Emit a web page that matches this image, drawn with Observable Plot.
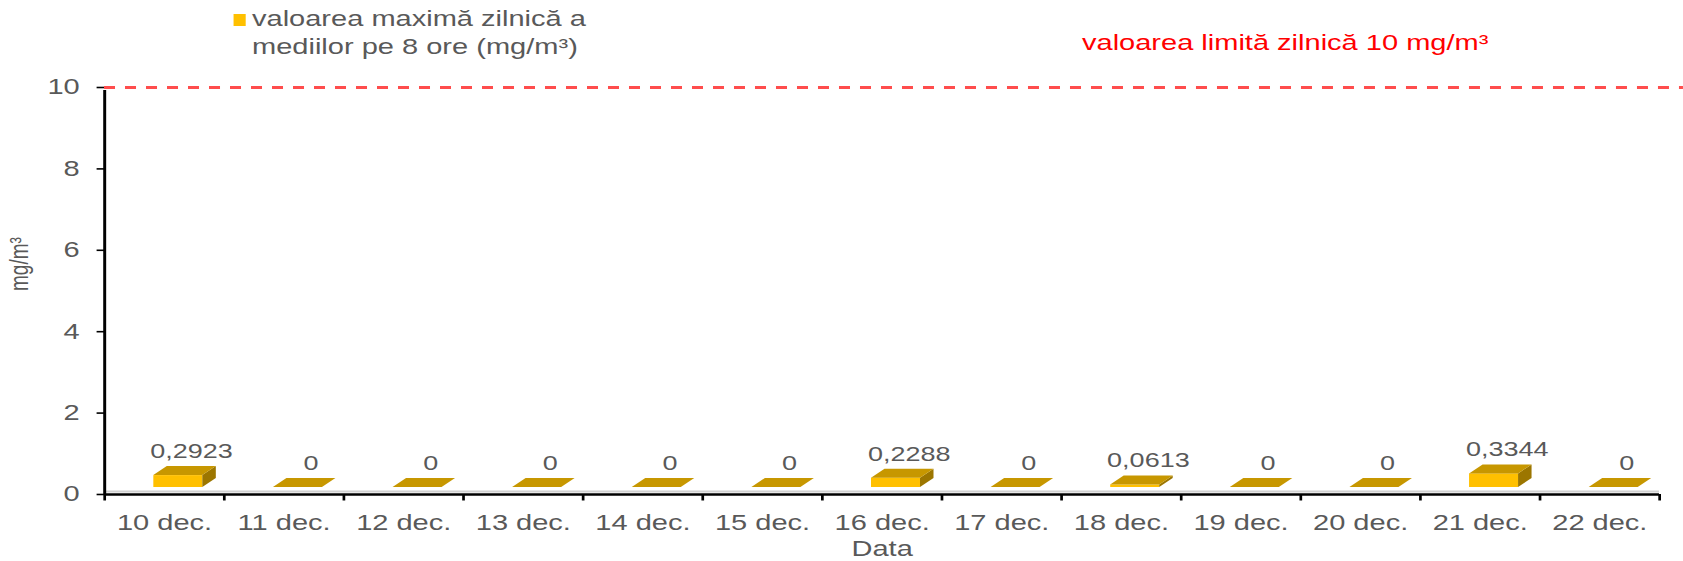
<!DOCTYPE html>
<html><head><meta charset="utf-8">
<script src="https://cdn.jsdelivr.net/npm/d3@7"></script>
<script src="https://cdn.jsdelivr.net/npm/@observablehq/plot@0.6"></script>
<style>
html,body{margin:0;padding:0;background:#fff;overflow:hidden;}
#wrap{position:relative;height:561px;transform-origin:0 0;}
#chart{position:absolute;left:0;top:0;}
#legend{position:absolute;font-family:"Liberation Sans",Arial,sans-serif;color:#595959;}
#legend .sw{position:absolute;background:#FFC000;}
#legend .tx{position:absolute;white-space:nowrap;}
</style></head><body>
<div id="wrap"><div id="chart"></div><div id="legend"></div></div>
<script>
// ---- data ----
const dates = ["10 dec.", "11 dec.", "12 dec.", "13 dec.", "14 dec.", "15 dec.", "16 dec.", "17 dec.", "18 dec.", "19 dec.", "20 dec.", "21 dec.", "22 dec."];
const values = [0.2923, 0, 0, 0, 0, 0, 0.2288, 0, 0.0613, 0, 0, 0.3344, 0];
const yTicks = [0, 2, 4, 6, 8, 10];
const limitValue = 10;
const seriesLabel = ["valoarea maximă zilnică a", "mediilor pe 8 ore (mg/m³)"];
const limitLabel = "valoarea limită zilnică 10 mg/m³";
const yLabel = "mg/m³";
const xLabel = "Data";

// ---- layout / style ----
const S = 1.35;                 // horizontal stretch of the original picture
const W = 1683 / S;
const H = 561;
const FONT = '"Liberation Sans", Arial, sans-serif';
const GRAY = "#595959";
const FRONT = "#FFC000", TOP = "#C79700", SIDE = "#9C7600";
const FRONT_L = -10.5 / S, FRONT_R = 38.5 / S, DX = 13.5 / S, DY = -9, BASE_DY = -7;
const mL = 104 / S, mR = W - 1659 / S;
const BAND = (W - mL - mR) / dates.length;

const rows = dates.map((date, i) => ({i, date, value: values[i]}));
const fmt = v => String(v).replace(".", ",");

function faces(index, scales) {
  const {x, y} = scales;
  const g = d3.create("svg:g");
  rows.forEach(d => {
    const c = x(d.i + 0.5);
    const L = c + FRONT_L, R = c + FRONT_R;
    const B = y(0) + BASE_DY, T = y(d.value) + BASE_DY;
    if (B - T > 0.5) g.append("polygon").attr("points", [[R, T], [R + DX, T + DY], [R + DX, B + DY], [R, B]].join(" ")).attr("fill", SIDE);
    g.append("polygon").attr("points", [[L, T], [R, T], [R + DX, T + DY], [L + DX, T + DY]].join(" ")).attr("fill", TOP);
  });
  return g.node();
}

const chart = Plot.plot({
  width: W, height: H,
  marginLeft: mL, marginRight: mR, marginTop: 87, marginBottom: H - 494,
  style: {fontFamily: FONT, background: "transparent", overflow: "visible"},
  x: {type: "linear", domain: [0, dates.length]},
  y: {domain: [0, 10], label: null},
  marks: [
    Plot.ruleY([0], {stroke: "#d0d0d0", strokeWidth: 2, dy: -3}),
    Plot.rectY(rows, {x1: d => d.i, x2: d => d.i + 1, y1: 0, y2: "value", insetLeft: BAND / 2 + FRONT_L, insetRight: BAND / 2 - FRONT_R, dy: BASE_DY, fill: FRONT}),
    faces,
    Plot.ruleY([limitValue], {stroke: "#ff4d4d", strokeWidth: 3, strokeDasharray: `${11 / S} ${10 / S}`, insetRight: -mR}),
    Plot.ruleX([0], {stroke: "#000", strokeWidth: 2.2, y1: 0, y2: 10, insetBottom: -3}),
    Plot.ruleY([0], {stroke: "#000", strokeWidth: 2.5}),
    Plot.axisY({ticks: yTicks, label: null, tickSize: 5.5, tickPadding: 13, stroke: "#000", strokeWidth: 1.6, fill: GRAY, fontSize: 21.5, tickFormat: d => d}),
    Plot.axisX({ticks: d3.range(0, dates.length + 1), label: null, tickSize: 6.5, tickFormat: () => "", stroke: "#000", strokeWidth: 2}),
    Plot.axisX({ticks: rows.map(d => d.i + 0.5), label: null, tickSize: 0, tickPadding: 20.5, tickFormat: v => dates[Math.floor(v)], fill: GRAY, fontSize: 21.5}),
    Plot.text(rows, {x: d => d.i + 0.5, y: "value", text: d => fmt(d.value), dx: 27 / S, dy: -31, fill: GRAY, fontSize: 20}),
    Plot.text([limitLabel], {y: [limitValue], frameAnchor: "right", text: d => d, textAnchor: "middle", dx: 1284.5 / S - 1659 / S, dy: -44, fill: "#ff0000", fontSize: 21.5}),
    Plot.text([yLabel], {frameAnchor: "left", text: d => d, rotate: -90, dx: 19 / S - mL, fill: GRAY, fontSize: 19}),
    Plot.text([xLabel], {frameAnchor: "bottom", text: d => d, dy: 62, fill: GRAY, fontSize: 21.5})
  ]
});

const wrap = document.getElementById("wrap");
wrap.style.width = W + "px";
wrap.style.transform = `scaleX(${S})`;
document.getElementById("chart").appendChild(chart);

const legend = document.getElementById("legend");
legend.style.left = "0px"; legend.style.top = "0px";
const sw = document.createElement("div");
sw.className = "sw";
Object.assign(sw.style, {left: (234 / S) + "px", top: "14px", width: (12 / S) + "px", height: "12px"});
legend.appendChild(sw);
seriesLabel.forEach((t, k) => {
  const d = document.createElement("div");
  d.className = "tx";
  d.textContent = t;
  Object.assign(d.style, {left: (252 / S) + "px", top: (5 + k * 28) + "px", fontSize: "21.5px", lineHeight: "28px"});
  legend.appendChild(d);
});
</script>
</body></html>
